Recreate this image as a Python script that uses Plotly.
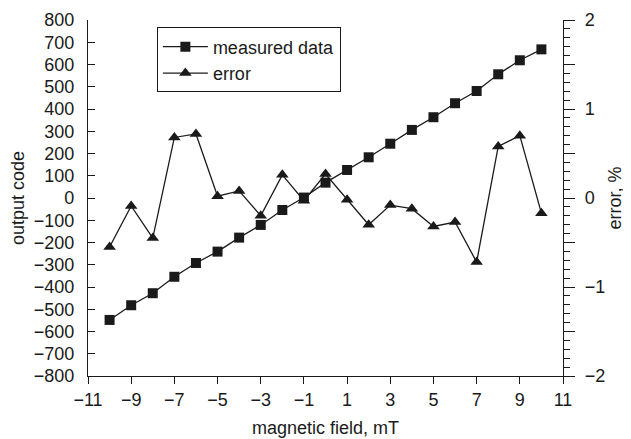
import plotly.graph_objects as go

# Data
field_mT = [-10, -9, -8, -7, -6, -5, -4, -3, -2, -1, 0, 1, 2, 3, 4, 5, 6, 7, 8, 9, 10]
measured_code = [-548, -482, -428, -354, -292, -241, -178, -121, -54, 2, 69,
                 126, 183, 244, 306, 363, 426, 481, 556, 619, 668]
error_pct = [-0.55, -0.09, -0.45, 0.68, 0.72, 0.02, 0.08, -0.20, 0.26, -0.03, 0.27,
             -0.02, -0.30, -0.08, -0.12, -0.32, -0.27, -0.72, 0.58, 0.70, -0.17]

x_ticks = [-11, -9, -7, -5, -3, -1, 1, 3, 5, 7, 9, 11]
left_ticks = list(range(-800, 801, 100))
right_ticks = [-2, -1.5, -1, -0.5, 0, 0.5, 1, 1.5, 2]
right_labels = ["\u22122", "", "\u22121", "", "0", "", "1", "", "2"]

INK = "#1a1a1a"
FONT = "Liberation Sans, Arial, sans-serif"

fig = go.Figure()
fig.add_trace(go.Scatter(
    x=field_mT, y=measured_code, name="measured data",
    mode="lines+markers",
    line=dict(color=INK, width=1.3),
    marker=dict(symbol="square", size=10, color=INK),
    yaxis="y",
))
fig.add_trace(go.Scatter(
    x=field_mT, y=error_pct, name="error",
    mode="lines+markers",
    line=dict(color=INK, width=1.3),
    marker=dict(symbol="triangle-up", size=11, color=INK),
    yaxis="y2",
))

# The page body has an 8px default margin, so the figure is sized to fit the window.
fig.update_layout(
    width=623, height=431,
    margin=dict(l=80, r=68, t=12, b=63, autoexpand=False),
    paper_bgcolor="white", plot_bgcolor="white",
    font=dict(family=FONT, size=18, color=INK),
    showlegend=True,
    legend=dict(
        x=0.145, y=0.979, xanchor="left", yanchor="top",
        bordercolor=INK, borderwidth=1, bgcolor="white",
        font=dict(family=FONT, size=18, color=INK),
        tracegroupgap=0, itemwidth=45,
    ),
    xaxis=dict(
        range=[-11, 11], tickmode="array", tickvals=x_ticks,
        showgrid=False, zeroline=False, automargin=False,
        showline=True, linecolor=INK, linewidth=1.3,
        ticks="outside", ticklen=7, tickcolor=INK, tickwidth=1.3,
        title=dict(text="magnetic field, mT", standoff=12, font=dict(size=18)),
        tickfont=dict(size=18),
    ),
    yaxis=dict(
        range=[-800, 800], tickmode="array", tickvals=left_ticks,
        showgrid=False, zeroline=False, automargin=False,
        showline=True, linecolor=INK, linewidth=1.3,
        ticks="inside", ticklen=7, tickcolor=INK, tickwidth=1.3,
        ticklabelstandoff=9,
        title=dict(text="output code", standoff=8, font=dict(size=18)),
        tickfont=dict(size=18),
    ),
    yaxis2=dict(
        range=[-2, 2], overlaying="y", side="right",
        tickmode="array", tickvals=right_ticks, ticktext=right_labels,
        showgrid=False, zeroline=False, automargin=False,
        showline=True, linecolor=INK, linewidth=1.3,
        ticks="outside", ticklen=11, tickcolor=INK, tickwidth=1.3,
        minor=dict(tickmode="linear", tick0=0, dtick=0.1, ticks="outside",
                   ticklen=6, tickcolor=INK, tickwidth=1.2),
        ticklabelstandoff=6,
        title=dict(text="error, %", standoff=4, font=dict(size=18)),
        tickfont=dict(size=18),
    ),
)

fig.write_html("out.html")
